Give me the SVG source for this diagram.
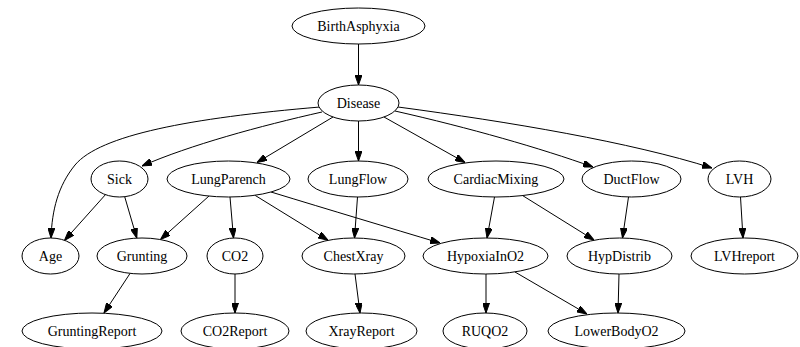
<svg xmlns="http://www.w3.org/2000/svg" width="800" height="347" viewBox="0 0 800 347">
<style>
.node ellipse{fill:#fff;stroke:#000;stroke-width:1}
text{font-family:'Liberation Serif','Times New Roman',Times,serif;font-size:14px;text-anchor:middle;fill:#000}
#edges path{fill:none;stroke:#000;stroke-width:1;marker-end:url(#arrow)}
</style>
<defs>
<marker id="arrow" viewBox="0 0 10 7" refX="10" refY="3.5" markerWidth="10" markerHeight="7" markerUnits="userSpaceOnUse" orient="auto">
<path d="M0,0 L10,3.5 L0,7 Z" fill="#000" stroke="#000" stroke-width="1"/>
</marker>
</defs>
<rect width="800" height="347" fill="#fff"/>
<g id="edges">
<path d="M358.5,44 L358.5,85"/>
<path d="M320,107 C190,118 100,135 75,165 C58,186 52,210 51,238"/>
<path d="M322,112 C260,126 190,145 142,166"/>
<path d="M333,117 L257,162.5"/>
<path d="M358.5,121 L358.5,161"/>
<path d="M384,117 L465,162.5"/>
<path d="M395,111 C470,128 540,148 593,167"/>
<path d="M398,107 C510,122 630,142 712,168"/>
<path d="M105.5,194.6 L64.5,240.4"/>
<path d="M124.7,196.7 L136.8,238.1"/>
<path d="M209,196 L160.5,239.5"/>
<path d="M230,197 L233.5,238"/>
<path d="M255,195.3 L328,240.3"/>
<path d="M271,192 C330,210 390,228 440,243"/>
<path d="M357.5,197 L354.5,238"/>
<path d="M494.5,197 L487,238"/>
<path d="M522.5,195.5 L594,240"/>
<path d="M628.5,197 L622.5,238"/>
<path d="M740.5,197 L743,238"/>
<path d="M130,273.5 L104,313"/>
<path d="M235,274 L235,313"/>
<path d="M355,274 L360,313"/>
<path d="M486,274 L486,313"/>
<path d="M515,272 L587,314"/>
<path d="M619,274 L618,313"/>
</g>
<g id="BirthAsphyxia" class="node"><ellipse cx="358.5" cy="26" rx="66.5" ry="18"/><text x="358.5" y="30.5" font-family="Liberation Serif">BirthAsphyxia</text></g>
<g id="Disease" class="node"><ellipse cx="358.5" cy="103" rx="40.5" ry="18"/><text x="358.5" y="107.5">Disease</text></g>
<g id="Sick" class="node"><ellipse cx="119.5" cy="179" rx="28.5" ry="18"/><text x="119.5" y="183.5">Sick</text></g>
<g id="LungParench" class="node"><ellipse cx="228.5" cy="179" rx="61.5" ry="18"/><text x="228.5" y="183.5">LungParench</text></g>
<g id="LungFlow" class="node"><ellipse cx="358" cy="179" rx="50" ry="18"/><text x="358" y="183.5">LungFlow</text></g>
<g id="CardiacMixing" class="node"><ellipse cx="496" cy="179" rx="68" ry="18"/><text x="496" y="183.5">CardiacMixing</text></g>
<g id="DuctFlow" class="node"><ellipse cx="631.5" cy="179" rx="49.5" ry="18"/><text x="631.5" y="183.5">DuctFlow</text></g>
<g id="LVH" class="node"><ellipse cx="739.5" cy="179" rx="31.5" ry="18"/><text x="739.5" y="183.5">LVH</text></g>
<g id="Age" class="node"><ellipse cx="50.5" cy="256" rx="28.5" ry="18"/><text x="50.5" y="260.5">Age</text></g>
<g id="Grunting" class="node"><ellipse cx="142" cy="256" rx="45" ry="18"/><text x="142" y="260.5">Grunting</text></g>
<g id="CO2" class="node"><ellipse cx="235" cy="256" rx="28" ry="18"/><text x="235" y="260.5">CO2</text></g>
<g id="ChestXray" class="node"><ellipse cx="353.5" cy="256" rx="51.5" ry="18"/><text x="353.5" y="260.5">ChestXray</text></g>
<g id="HypoxiaInO2" class="node"><ellipse cx="485.5" cy="256" rx="62.5" ry="18"/><text x="485.5" y="260.5">HypoxiaInO2</text></g>
<g id="HypDistrib" class="node"><ellipse cx="619.5" cy="256" rx="52.5" ry="18"/><text x="619.5" y="260.5">HypDistrib</text></g>
<g id="LVHreport" class="node"><ellipse cx="744.5" cy="256" rx="53.5" ry="18"/><text x="744.5" y="260.5">LVHreport</text></g>
<g id="GruntingReport" class="node"><ellipse cx="92" cy="331" rx="70" ry="18"/><text x="92" y="335.5">GruntingReport</text></g>
<g id="CO2Report" class="node"><ellipse cx="235" cy="331" rx="54" ry="18"/><text x="235" y="335.5">CO2Report</text></g>
<g id="XrayReport" class="node"><ellipse cx="361.5" cy="331" rx="55.5" ry="18"/><text x="361.5" y="335.5">XrayReport</text></g>
<g id="RUQO2" class="node"><ellipse cx="485" cy="331" rx="42" ry="18"/><text x="485" y="335.5">RUQO2</text></g>
<g id="LowerBodyO2" class="node"><ellipse cx="616.5" cy="331" rx="68.5" ry="18"/><text x="616.5" y="335.5">LowerBodyO2</text></g>
</svg>
